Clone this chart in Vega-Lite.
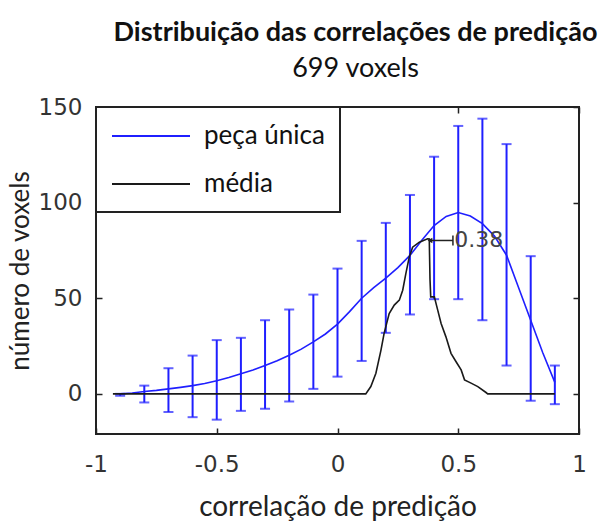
{
  "$schema": "https://vega.github.io/schema/vega-lite/v6.json",
  "width": 483,
  "height": 327,
  "autosize": "none",
  "padding": {"left": 96, "top": 107, "right": 34, "bottom": 88},
  "background": "white",
  "title": {
    "text": "Distribuição das correlações de predição",
    "subtitle": "699 voxels",
    "font": "Lato",
    "fontSize": 27,
    "fontWeight": "bold",
    "color": "#111111",
    "subtitleFont": "Lato",
    "subtitleFontSize": 27,
    "subtitleColor": "#111111",
    "subtitlePadding": 9,
    "anchor": "middle",
    "dx": 18,
    "offset": 13
  },
  "config": {
    "view": {"stroke": "#222222", "strokeWidth": 2},
    "axis": {"grid": false, "domain": false},
    "legend": {"strokeWidth": 2}
  },
  "datasets": {
    "curves": [
      {"serie": "peça única", "x": -0.9, "y": 0},
      {"serie": "peça única", "x": -0.85, "y": 0.4},
      {"serie": "peça única", "x": -0.8, "y": 1.2},
      {"serie": "peça única", "x": -0.75, "y": 1.8},
      {"serie": "peça única", "x": -0.7, "y": 2.6},
      {"serie": "peça única", "x": -0.65, "y": 3.4},
      {"serie": "peça única", "x": -0.6, "y": 4.3},
      {"serie": "peça única", "x": -0.55, "y": 5.4},
      {"serie": "peça única", "x": -0.5, "y": 6.8},
      {"serie": "peça única", "x": -0.45, "y": 8.5},
      {"serie": "peça única", "x": -0.4, "y": 10.5},
      {"serie": "peça única", "x": -0.35, "y": 12.5},
      {"serie": "peça única", "x": -0.3, "y": 14.8},
      {"serie": "peça única", "x": -0.25, "y": 17.3},
      {"serie": "peça única", "x": -0.2, "y": 20.2},
      {"serie": "peça única", "x": -0.15, "y": 23.4},
      {"serie": "peça única", "x": -0.1, "y": 27.2},
      {"serie": "peça única", "x": -0.05, "y": 31.3},
      {"serie": "peça única", "x": 0, "y": 36.5},
      {"serie": "peça única", "x": 0.05, "y": 43},
      {"serie": "peça única", "x": 0.1, "y": 50},
      {"serie": "peça única", "x": 0.15, "y": 55.5},
      {"serie": "peça única", "x": 0.2, "y": 60.5},
      {"serie": "peça única", "x": 0.25, "y": 66},
      {"serie": "peça única", "x": 0.3, "y": 72.4},
      {"serie": "peça única", "x": 0.35, "y": 80.5},
      {"serie": "peça única", "x": 0.4, "y": 88},
      {"serie": "peça única", "x": 0.45, "y": 92.8},
      {"serie": "peça única", "x": 0.5, "y": 94.8},
      {"serie": "peça única", "x": 0.55, "y": 93},
      {"serie": "peça única", "x": 0.6, "y": 89},
      {"serie": "peça única", "x": 0.65, "y": 82.5},
      {"serie": "peça única", "x": 0.7, "y": 72.5},
      {"serie": "peça única", "x": 0.75, "y": 55.5},
      {"serie": "peça única", "x": 0.8, "y": 38.5},
      {"serie": "peça única", "x": 0.85, "y": 21.5},
      {"serie": "peça única", "x": 0.9, "y": 6},
      {"serie": "média", "x": -0.93, "y": 0},
      {"serie": "média", "x": 0.117, "y": 0},
      {"serie": "média", "x": 0.138, "y": 3.8},
      {"serie": "média", "x": 0.159, "y": 10.8},
      {"serie": "média", "x": 0.18, "y": 22.9},
      {"serie": "média", "x": 0.193, "y": 31.6},
      {"serie": "média", "x": 0.214, "y": 42},
      {"serie": "média", "x": 0.235, "y": 46.4},
      {"serie": "média", "x": 0.256, "y": 49},
      {"serie": "média", "x": 0.27, "y": 54.2},
      {"serie": "média", "x": 0.283, "y": 62.9},
      {"serie": "média", "x": 0.297, "y": 71.5},
      {"serie": "média", "x": 0.311, "y": 76.7},
      {"serie": "média", "x": 0.339, "y": 79.3},
      {"serie": "média", "x": 0.373, "y": 81.1},
      {"serie": "média", "x": 0.38, "y": 81},
      {"serie": "média", "x": 0.383, "y": 60},
      {"serie": "média", "x": 0.386, "y": 50.7},
      {"serie": "média", "x": 0.401, "y": 50.7},
      {"serie": "média", "x": 0.415, "y": 43.8},
      {"serie": "média", "x": 0.429, "y": 36.8},
      {"serie": "média", "x": 0.449, "y": 29.8},
      {"serie": "média", "x": 0.47, "y": 21.2},
      {"serie": "média", "x": 0.491, "y": 16.8},
      {"serie": "média", "x": 0.512, "y": 12.5},
      {"serie": "média", "x": 0.526, "y": 7.3},
      {"serie": "média", "x": 0.553, "y": 5.6},
      {"serie": "média", "x": 0.581, "y": 3.8},
      {"serie": "média", "x": 0.615, "y": 0.7},
      {"serie": "média", "x": 0.622, "y": 0},
      {"serie": "média", "x": 0.9, "y": 0}
    ],
    "bars": [
      {"x": -0.9, "low": -1, "high": 0},
      {"x": -0.8, "low": -4.5, "high": 4.3},
      {"x": -0.7, "low": -9.5, "high": 13.4},
      {"x": -0.6, "low": -12.2, "high": 20},
      {"x": -0.5, "low": -13.5, "high": 28.1},
      {"x": -0.4, "low": -8.9, "high": 29.3},
      {"x": -0.3, "low": -7.8, "high": 38.5},
      {"x": -0.2, "low": -4, "high": 44.1},
      {"x": -0.1, "low": 2.6, "high": 51.9},
      {"x": 0, "low": 9, "high": 65.5},
      {"x": 0.1, "low": 17.2, "high": 80},
      {"x": 0.2, "low": 31.9, "high": 89.4},
      {"x": 0.3, "low": 41.5, "high": 104},
      {"x": 0.4, "low": 49.5, "high": 124},
      {"x": 0.5, "low": 49.5, "high": 140.1},
      {"x": 0.6, "low": 38.5, "high": 143.9},
      {"x": 0.7, "low": 14.8, "high": 130.6},
      {"x": 0.8, "low": -3.6, "high": 72},
      {"x": 0.9, "low": -5.4, "high": 14.8}
    ],
    "note": [
      {"x": 0.383, "x2": 0.478, "y": 80.2, "ylo": 77.6, "yhi": 82.8, "xt": 0.483, "label": "0.38"}
    ]
  },
  "layer": [
    {
      "data": {"name": "bars"},
      "mark": {"type": "rule", "color": "#1f1fff", "strokeWidth": 2},
      "encoding": {
        "x": {"field": "x", "type": "quantitative", "scale": {"domain": [-1, 1], "nice": false, "zero": false},
          "axis": {"orient": "top", "values": [-1, -0.5, 0, 0.5, 1], "labels": false, "title": null, "tickSize": -6, "tickColor": "#222222", "tickWidth": 1.5}},
        "y": {"field": "low", "type": "quantitative", "scale": {"domain": [-21, 150], "nice": false, "zero": false},
          "axis": {"orient": "right", "values": [0, 50, 100, 150], "labels": false, "title": null, "tickSize": -6, "tickColor": "#222222", "tickWidth": 1.5}},
        "y2": {"field": "high"}
      }
    },
    {
      "data": {"name": "bars"},
      "mark": {"type": "tick", "orient": "horizontal", "color": "#1f1fff", "size": 10, "thickness": 2},
      "encoding": {
        "x": {"field": "x", "type": "quantitative", "axis": null},
        "y": {"field": "low", "type": "quantitative", "axis": null}
      }
    },
    {
      "data": {"name": "bars"},
      "mark": {"type": "tick", "orient": "horizontal", "color": "#1f1fff", "size": 10, "thickness": 2},
      "encoding": {
        "x": {"field": "x", "type": "quantitative", "axis": null},
        "y": {"field": "high", "type": "quantitative", "axis": null}
      }
    },
    {
      "data": {"name": "curves"},
      "mark": {"type": "line", "strokeWidth": 1.6},
      "encoding": {
        "x": {"field": "x", "type": "quantitative",
          "axis": {"orient": "bottom", "values": [-1, -0.5, 0, 0.5, 1], "labelExpr": "'' + datum.value",
            "labelFont": "DejaVu Sans", "labelFontSize": 23, "labelColor": "#333333", "labelFlush": false, "labelOverlap": false,
            "tickSize": -6, "tickColor": "#222222", "tickWidth": 1.5, "labelPadding": 25,
            "title": "correlação de predição", "titleFont": "Lato", "titleFontSize": 28, "titleFontWeight": "normal", "titleColor": "#222222", "titlePadding": 17}},
        "y": {"field": "y", "type": "quantitative",
          "axis": {"orient": "left", "values": [0, 50, 100, 150], "labelExpr": "'' + datum.value",
            "labelFont": "DejaVu Sans", "labelFontSize": 23, "labelColor": "#333333", "labelOverlap": false,
            "tickSize": -6, "tickColor": "#222222", "tickWidth": 1.5, "labelPadding": 20,
            "title": "número de voxels", "titleFont": "Lato", "titleFontSize": 26, "titleFontWeight": "normal", "titleColor": "#222222", "titlePadding": 5}},
        "color": {"field": "serie", "type": "nominal", "sort": ["peça única", "média"],
          "scale": {"domain": ["peça única", "média"], "range": ["#1f1fff", "#1a1a1a"]},
          "legend": {"orient": "top-left", "offset": 0, "title": null, "symbolType": "M-1,0H5", "symbolSize": 676,
            "symbolStrokeWidth": 2, "labelFont": "Lato", "labelFontSize": 26, "labelColor": "#111111", "labelOffset": 65,
            "strokeColor": "#222222", "fillColor": "white", "padding": 15, "rowPadding": 21}}
      }
    },
    {
      "data": {"name": "note"},
      "mark": {"type": "rule", "color": "#222222", "strokeWidth": 1.5},
      "encoding": {
        "x": {"field": "x", "type": "quantitative", "axis": null},
        "x2": {"field": "x2"},
        "y": {"field": "y", "type": "quantitative", "axis": null}
      }
    },
    {
      "data": {"name": "note"},
      "mark": {"type": "rule", "color": "#222222", "strokeWidth": 1.5},
      "encoding": {
        "x": {"field": "x2", "type": "quantitative", "axis": null},
        "y": {"field": "ylo", "type": "quantitative", "axis": null},
        "y2": {"field": "yhi"}
      }
    },
    {
      "data": {"name": "note"},
      "mark": {"type": "point", "shape": "triangle-left", "filled": true, "color": "#222222", "size": 30, "opacity": 1},
      "encoding": {
        "x": {"field": "x", "type": "quantitative", "axis": null},
        "y": {"field": "y", "type": "quantitative", "axis": null}
      }
    },
    {
      "data": {"name": "note"},
      "mark": {"type": "text", "align": "left", "baseline": "middle", "font": "DejaVu Sans", "fontSize": 22, "color": "#444444"},
      "encoding": {
        "x": {"field": "xt", "type": "quantitative", "axis": null},
        "y": {"field": "y", "type": "quantitative", "axis": null},
        "text": {"field": "label"}
      }
    }
  ],
  "resolve": {"axis": {"x": "independent", "y": "independent"}}
}
